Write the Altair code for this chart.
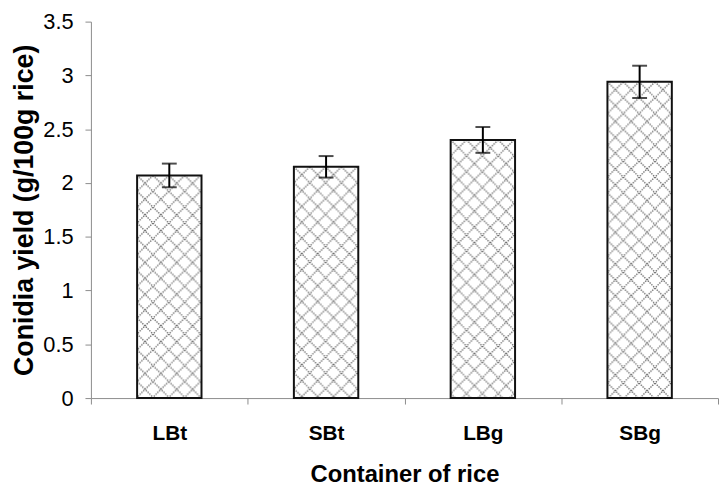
import base64
import altair as alt
import pandas as pd

# ---- data ----
containers = ["LBt", "SBt", "LBg", "SBg"]
yields = [2.07, 2.15, 2.40, 2.94]
errors = [0.11, 0.10, 0.12, 0.15]
y_ticks = [0, 0.5, 1, 1.5, 2, 2.5, 3, 3.5]

df = pd.DataFrame({"container": containers, "yield": yields, "err": errors})
df["lo"] = df["yield"] - df["err"]
df["hi"] = df["yield"] + df["err"]

FONT = "Liberation Sans"
W, H = 633, 380
BAR_W = 65
TILE = 16

# cross-hatch (diamond) fill pattern as an SVG tile, drawn inside each bar
pattern_svg = (
    "<svg xmlns='http://www.w3.org/2000/svg' width='100%' height='100%'>"
    f"<defs><pattern id='h' width='{TILE}' height='{TILE}' patternUnits='userSpaceOnUse'>"
    f"<path d='M0,0L{TILE},{TILE}M{TILE},0L0,{TILE}' stroke='#6e6e6e' stroke-width='1.4' "
    "stroke-dasharray='1.4,1.1' fill='none'/></pattern></defs>"
    "<rect width='100%' height='100%' fill='url(#h)'/></svg>"
)
pattern_url = "data:image/svg+xml;base64," + base64.b64encode(pattern_svg.encode()).decode()

x_enc = alt.X(
    "container:N",
    sort=containers,
    scale=alt.Scale(type="band", paddingInner=0, paddingOuter=0),
    axis=alt.Axis(
        title="Container of rice",
        labelAngle=0,
        labelFont=FONT,
        labelFontSize=21,
        labelFontWeight="bold",
        labelColor="black",
        labelBaseline="alphabetic",
        labelPadding=36,
        tickBand="extent",
        tickSize=6,
        tickColor="#8c8c8c",
        domainColor="#8c8c8c",
        titleFont=FONT,
        titleFontSize=24,
        titleFontWeight="bold",
        titleColor="black",
        titleBaseline="alphabetic",
        titleY=84,
    ),
)

y_enc = alt.Y(
    "yield:Q",
    scale=alt.Scale(domain=[0, 3.5], nice=False),
    axis=alt.Axis(
        title="Conidia yield (g/100g rice)",
        values=y_ticks,
        format=".1~f",
        grid=False,
        labelFont=FONT,
        labelFontSize=22,
        labelColor="black",
        labelPadding=12,
        tickSize=6,
        tickColor="#8c8c8c",
        domainColor="#8c8c8c",
        titleFont=FONT,
        titleFontSize=27,
        titleFontWeight="bold",
        titleColor="black",
        titleAngle=270,
        titleAlign="center",
        titleBaseline="alphabetic",
        titleX=-59,
        titleY=H / 2,
    ),
)

base = alt.Chart(df)

hatch = base.mark_image(width=BAR_W, aspect=False).encode(
    x=x_enc,
    y=y_enc,
    y2=alt.datum(0),
    url=alt.value(pattern_url),
)

bars = base.mark_bar(
    width=BAR_W, fill="white", fillOpacity=0, stroke="#111111", strokeWidth=2
).encode(x=x_enc, y=y_enc)

err_line = base.mark_rule(color="black", strokeWidth=2).encode(
    x=x_enc, y="lo:Q", y2="hi:Q"
)
cap_hi = base.mark_tick(color="black", thickness=2, size=15).encode(x=x_enc, y="hi:Q")
cap_lo = base.mark_tick(color="black", thickness=2, size=15).encode(x=x_enc, y="lo:Q")

chart = (
    alt.layer(hatch, bars, err_line, cap_hi, cap_lo)
    .properties(
        width=W,
        height=H,
        autosize=alt.AutoSizeParams(type="none"),
        padding={"left": 83.7, "top": 11.5, "right": 2, "bottom": 86.5},
        background="white",
    )
    .configure_view(stroke=None)
)

chart.save("out.html", embed_options={"renderer": "svg", "actions": False})
